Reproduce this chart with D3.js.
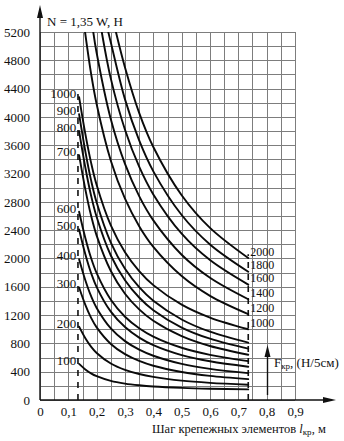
<!DOCTYPE html>
<html>
<head>
<meta charset="utf-8">
<script src="https://cdn.jsdelivr.net/npm/d3@7/dist/d3.min.js"></script>
<style>
  html, body { margin: 0; padding: 0; background: #fff; }
  svg { display: block; }
  text { font-family: "Liberation Serif", "DejaVu Serif", serif; fill: #111; }
</style>
</head>
<body>
<svg id="chart" width="344" height="441"></svg>
<script>
// Fastener pitch (m) at which each curve is sampled
const pitch = [0.138, 0.16, 0.18, 0.2, 0.25, 0.3, 0.35, 0.4, 0.5, 0.6, 0.735];

// Load family labels (F, N/5cm)
const lowLoads = [100, 200, 300, 400, 500, 600, 700, 800, 900, 1000];
const highLoads = [1200, 1400, 1600, 1800, 2000];

// N (H) along each curve, null where the curve is above the frame
const n100  = [510, 432, 377, 336, 270, 232, 208, 191, 171, 159, 150];
const n200  = [1036, 873, 755, 665, 516, 426, 367, 326, 273, 242, 215];
const n300  = [1590, 1345, 1164, 1026, 792, 648, 552, 484, 396, 341, 295];
const n400  = [1990, 1693, 1471, 1301, 1012, 832, 711, 625, 511, 440, 380];
const n500  = [2410, 2060, 1798, 1596, 1248, 1031, 882, 776, 635, 547, 470];
const n600  = [2660, 2289, 2009, 1792, 1416, 1177, 1014, 896, 738, 638, 550];
const n700  = [3460, 2977, 2610, 2323, 1823, 1502, 1281, 1120, 903, 763, 640];
const n800  = [3800, 3286, 2894, 2585, 2042, 1692, 1448, 1268, 1024, 866, 725];
const n900  = [4040, 3514, 3110, 2790, 2224, 1854, 1594, 1402, 1138, 965, 810];
const n1000 = [4280, 3760, 3358, 3038, 2466, 2089, 1822, 1623, 1348, 1165, 1000];
const n1200 = [null, null, 4620, 4180, 3382, 2844, 2456, 2163, 1751, 1472, 1214];
const n1400 = [null, null, null, 4903, 3967, 3336, 2881, 2538, 2053, 1727, 1424];
const n1600 = [null, null, null, null, 4541, 3819, 3297, 2905, 2350, 1977, 1630];
const n1800 = [null, null, null, null, 5051, 4248, 3668, 3231, 2614, 2198, 1813];
const n2000 = [null, null, null, null, null, 4700, 4058, 3575, 2893, 2432, 2006];

// Pitch where the upper curves enter through the top edge (N = 5200)
const highEntry = [0.159, 0.188, 0.218, 0.241, 0.268];

// Axes
const xTicks = [0, 0.1, 0.2, 0.3, 0.4, 0.5, 0.6, 0.7, 0.8, 0.9];
const xTickLabels = ["0", "0,1", "0,2", "0,3", "0,4", "0,5", "0,6", "0,7", "0,8", "0,9"];
const yTicks = [0, 400, 800, 1200, 1600, 2000, 2400, 2800, 3200, 3600, 4000, 4400, 4800, 5200];
const yTickLabels = ["0", "400", "800", "1200", "1600", "2000", "2400", "2800", "3200", "3600", "4000", "4400", "4800", "5200"];
const xGridStep = 0.05;
const yGridStep = 200;

const lowSeries = [n100, n200, n300, n400, n500, n600, n700, n800, n900, n1000];
const highSeries = [n1200, n1400, n1600, n1800, n2000];

const svg = d3.select("#chart");
const x = d3.scaleLinear().domain([0, 0.9]).range([40, 295]);
const y = d3.scaleLinear().domain([0, 5200]).range([400, 32]);

// Grid
const grid = svg.append("g").attr("stroke", "#7d7d7d").attr("stroke-width", 1);
d3.range(0, 0.9 + 1e-9, xGridStep).forEach(v => {
  grid.append("line")
    .attr("x1", Math.round(x(v)) + 0.5).attr("x2", Math.round(x(v)) + 0.5)
    .attr("y1", y(0)).attr("y2", y(5200));
});
d3.range(0, 5200 + 1e-9, yGridStep).forEach(v => {
  grid.append("line")
    .attr("x1", x(0)).attr("x2", x(0.9))
    .attr("y1", Math.round(y(v)) + 0.5).attr("y2", Math.round(y(v)) + 0.5);
});

// Tick labels via d3 axes
const yAxis = svg.append("g").attr("transform", `translate(${x(0)},0)`)
  .call(d3.axisLeft(y).tickValues(yTicks).tickSize(0).tickPadding(10)
    .tickFormat((d, i) => yTickLabels[i]));
yAxis.select(".domain").remove();
yAxis.selectAll("text").style("font-size", "13px").style("font-family", "Liberation Serif");

const xAxis = svg.append("g").attr("transform", `translate(0,${y(0)})`)
  .call(d3.axisBottom(x).tickValues(xTicks).tickSize(0).tickPadding(7)
    .tickFormat((d, i) => xTickLabels[i]));
xAxis.select(".domain").remove();
xAxis.selectAll("text").style("font-size", "13px").style("font-family", "Liberation Serif");

// Axis lines with arrow heads
const axes = svg.append("g").attr("stroke", "#111").attr("stroke-width", 1.4);
axes.append("line").attr("x1", x(0)).attr("x2", x(0)).attr("y1", y(0)).attr("y2", 14);
axes.append("line").attr("x1", x(0)).attr("x2", 328).attr("y1", y(0)).attr("y2", y(0));
svg.append("path").attr("fill", "#111")
  .attr("d", `M${x(0)},5 L${x(0) - 3},18 L${x(0) + 3},18 Z`);
svg.append("path").attr("fill", "#111")
  .attr("d", `M336,${y(0)} L323,${y(0) - 3} L323,${y(0) + 3} Z`);

// Dashed boundaries of the curve family
const dash = svg.append("g").attr("stroke", "#111").attr("stroke-width", 1.6)
  .attr("stroke-dasharray", "6,6");
dash.append("line").attr("x1", x(0.134)).attr("x2", x(0.134))
  .attr("y1", y(0)).attr("y2", y(4330));
dash.append("line").attr("x1", x(0.735)).attr("x2", x(0.735))
  .attr("y1", y(0)).attr("y2", y(2060));

// Curves
svg.append("clipPath").attr("id", "frame").append("rect")
  .attr("x", x(0)).attr("y", y(5200)).attr("width", x(0.9) - x(0)).attr("height", y(0) - y(5200));

const line = d3.line().x(d => x(d[0])).y(d => y(d[1])).curve(d3.curveCatmullRom.alpha(0.5));
const curves = svg.append("g").attr("clip-path", "url(#frame)")
  .attr("fill", "none").attr("stroke", "#0a0a0a").attr("stroke-width", 1.9)
  .attr("stroke-linecap", "round");

lowSeries.forEach(vals => {
  const pts = pitch.map((p, i) => [p, vals[i]]);
  curves.append("path").attr("d", line(pts));
});
highSeries.forEach((vals, k) => {
  const pts = [[highEntry[k], 5200]].concat(
    pitch.map((p, i) => [p, vals[i]]).filter(d => d[1] !== null));
  curves.append("path").attr("d", line(pts));
});

// Curve labels
const labels = svg.append("g");
lowLoads.forEach((f, i) => {
  labels.append("text")
    .attr("x", x(0.128)).attr("y", y(lowSeries[i][0]) - 2)
    .attr("text-anchor", "end").attr("dominant-baseline", "middle")
    .style("font-size", "13px")
    .text(f);
});
const rightLabels = [1000].concat(highLoads);
const rightEnds = [n1000].concat(highSeries).map(s => s[s.length - 1]);
rightLabels.forEach((f, i) => {
  labels.append("text")
    .attr("x", x(0.735) + 2).attr("y", y(rightEnds[i]) - 5)
    .attr("dominant-baseline", "middle")
    .style("font-size", "12px")
    .text(f);
});

// Titles
svg.append("text").attr("x", 47).attr("y", 26).style("font-size", "13px")
  .text("N = 1,35 W, H");

const xt = svg.append("text").attr("x", 152).attr("y", 433).style("font-size", "12.5px");
xt.append("tspan").text("Шаг крепежных элементов ");
xt.append("tspan").style("font-style", "italic").text("l");
xt.append("tspan").attr("dy", 2).style("font-size", "9px").text("кр");
xt.append("tspan").attr("dy", -2).text(", м");

// Load arrow and label
svg.append("line").attr("x1", 267.5).attr("x2", 267.5).attr("y1", 395).attr("y2", 352)
  .attr("stroke", "#111").attr("stroke-width", 1.4);
svg.append("path").attr("fill", "#111").attr("d", "M267.5,345 L264.5,357 L270.5,357 Z");
const ft = svg.append("text").attr("x", 274).attr("y", 367).style("font-size", "13px");
ft.append("tspan").text("F");
ft.append("tspan").attr("dy", 2).style("font-size", "9px").text("кр");
ft.append("tspan").attr("dy", -2).text(", (Н/5см)");
</script>
</body>
</html>
